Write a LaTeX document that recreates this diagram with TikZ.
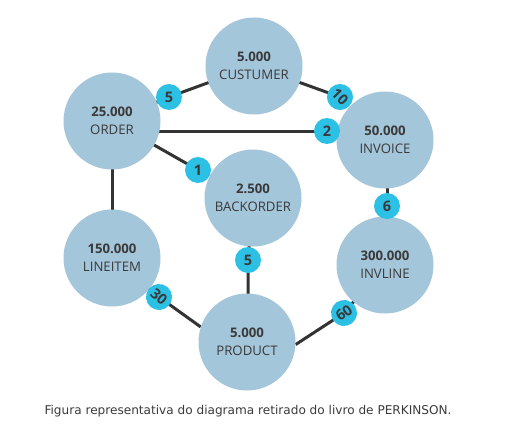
\documentclass[tikz,border=0pt]{standalone}
\usepackage{fontspec}
\setmainfont{Open Sans}
\newfontfamily\capfont{DejaVu Sans}
\usetikzlibrary{backgrounds}
\definecolor{circ}{HTML}{A4C6DA}
\definecolor{badge}{HTML}{2CC0E4}
\definecolor{txt}{HTML}{3A3A3A}
\definecolor{ln}{HTML}{333333}
\begin{document}
\begin{tikzpicture}[x=1pt,y=-1pt,
 ent/.style={circle,fill=circ,minimum size=97pt,inner sep=0pt,align=center,text=txt,font=\fontsize{13.2}{18}\selectfont},
 card/.style={circle,fill=badge,minimum size=26pt,inner sep=0pt,text=txt,font=\fontsize{14.5}{15}\selectfont\bfseries},
 conn/.style={draw=ln,line width=3pt}]
\useasboundingbox (0,0) rectangle (514,428);
\node[ent] (cust) at (254,66) {\textbf{5.000}\\CUSTUMER};
\node[ent] (order) at (112,121) {\textbf{25.000}\\ORDER};
\node[ent] (invoice) at (385,140) {\textbf{50.000}\\INVOICE};
\node[ent] (backorder) at (253,198) {\textbf{2.500}\\BACKORDER};
\node[ent] (lineitem) at (112,258) {\textbf{150.000}\\LINEITEM};
\node[ent] (invline) at (385,265) {\textbf{300.000}\\INVLINE};
\node[ent] (product) at (247,342) {\textbf{5.000}\\PRODUCT};
\node[card] (b5a) at (169,97) {5};
\node[card,rotate=-45] (b10) at (340,97) {10};
\node[card] (b2) at (327,131) {2};
\node[card] (b1) at (198,170) {1};
\node[card] (b6) at (387,206) {6};
\node[card] (b5b) at (248,260) {5};
\node[card,rotate=-40] (b30) at (159,297) {30};
\node[card,rotate=35] (b60) at (344,313) {60};
\node[font=\capfont\fontsize{12.1}{14}\selectfont,text=txt] (cap) at (248,411) {Figura representativa do diagrama retirado do livro de PERKINSON.};
\begin{pgfonlayer}{background}
\draw[conn] (order.center) -- (b5a.center) -- (cust.center);
\draw[conn] (cust.center) -- (b10.center);
\draw[conn] (order.center |- b2.center) -- (b2.center);
\draw[conn] (order.center) -- (b1.center);
\draw[conn] (b6.center |- invoice.center) -- (b6.center |- invline.center);
\draw[conn] (order.center) -- (lineitem.center);
\draw[conn] (backorder.center) -- (b5b.center) -- (b5b.center |- product.center);
\draw[conn] (lineitem.center) -- (b30.center) -- (product.162);
\draw[conn] (product.-3) -- (b60.center) -- (invline.center);
\end{pgfonlayer}
\end{tikzpicture}
\end{document}
